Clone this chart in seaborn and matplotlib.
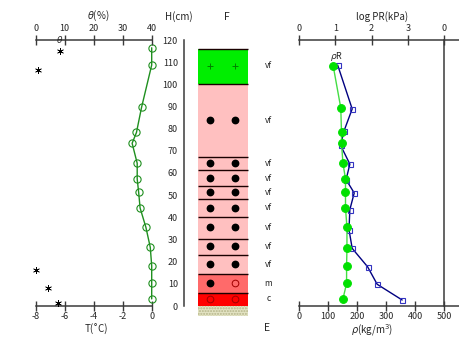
import numpy as np
import pandas as pd
import seaborn as sns
import matplotlib
matplotlib.use("Agg")
import matplotlib.pyplot as plt

# ---------------- data ----------------
T_height = [116.5, 108.7, 89.6, 78.3, 73.4, 64.4, 57.3, 51.3, 44.2, 35.5, 26.5, 18.2, 10.2, 3.2]
T_vals = [0.0, 0.0, -0.7, -1.05, -1.35, -1.0, -1.0, -0.9, -0.8, -0.4, -0.1, 0.0, 0.0, 0.0]

theta_height = [115.0, 106.5, 16.2, 8.1, 1.4]
theta_vals = [8.4, 0.8, 0.0, 4.2, 7.7]

rho_height = [108.7, 88.9, 79.0, 72.5, 64.0, 57.0, 51.0, 43.5, 34.5, 26.0, 17.7, 9.8, 2.7]
rho_vals = [133, 183, 155, 143, 175, 162, 190, 175, 172, 183, 236, 269, 355]

pr_height = [108.4, 89.4, 78.3, 73.4, 64.4, 57.3, 51.3, 44.2, 35.5, 26.0, 18.2, 10.2, 3.2]
pr_log = [0.94, 1.15, 1.17, 1.17, 1.21, 1.28, 1.28, 1.28, 1.32, 1.32, 1.31, 1.31, 1.21]

layer_top = [116, 100, 67.3, 61.3, 54.3, 48.3, 40.3, 30.1, 23, 14.3, 6]
layer_bottom = [100, 67.3, 61.3, 54.3, 48.3, 40.3, 30.1, 23, 14.3, 6, 0]
layer_color = ["#00ee00"] + ["#ffc0c0"] * 8 + ["#ff6a6a", "#ff0000"]
grain_height = [108.4, 83.7, 64.4, 57.7, 51.4, 44.3, 35.5, 27, 18.8, 10.2, 3.2]
grain_left = ["plus"] + ["dot"] * 8 + ["dot", "open"]
grain_right = ["plus"] + ["dot"] * 8 + ["open", "open"]
grain_size = ["vf"] * 9 + ["m", "c"]

T_ticks = [-8, -6, -4, -2, 0]
theta_ticks = [0, 10, 20, 30, 40]
H_ticks = list(range(0, 130, 10))
rho_ticks = [0, 100, 200, 300, 400, 500]
pr_ticks = [0, 1, 2, 3, 4]
pr_ticklabels = ["0", "1", "2", "3", "0"]

# ---------------- style ----------------
sns.set_style("white")
plt.rcParams["font.family"] = ["Noto Sans CJK JP", "DejaVu Sans"]
plt.rcParams["font.size"] = 6.5
plt.rcParams["axes.unicode_minus"] = False

W, H = 460, 345
fig = plt.figure(figsize=(4.6, 3.45), dpi=100)
fig.patch.set_facecolor("white")

def fx(px):
    return px / W

def fy(py):
    return 1 - py / H

Y0, Y120 = 306, 40
bottom = fy(Y0)
height = (Y0 - Y120) / H
AXC = "#3a3a3a"
green = "#1f8f1f"

def style_h(ax, which):
    for s in ["left", "right", "top", "bottom"]:
        ax.spines[s].set_visible(s in which)
        ax.spines[s].set_color(AXC)
        ax.spines[s].set_linewidth(1.1)
    ax.set_facecolor("none")

# ---------------- left panel: T and theta ----------------
ax1 = fig.add_axes([fx(35.7), bottom, fx(151.7) - fx(35.7), height])
ax1.set_xlim(-8, 0)
ax1.set_ylim(0, 120)
style_h(ax1, ["bottom"])
ax1.set_xticks(T_ticks)
ax1.set_xticklabels([str(t) for t in T_ticks])
ax1.set_yticks([])
ax1.tick_params(axis="x", direction="inout", length=7.2, width=1.0, color=AXC, pad=0.8, labelsize=6.5)
sns.lineplot(x=T_vals, y=T_height, sort=False, estimator=None, ax=ax1, color=green,
             lw=1.0, marker="o", markersize=5.2, markerfacecolor="none",
             markeredgecolor=green, markeredgewidth=0.8, clip_on=False)
ax1.set_xlabel("")
ax1.set_ylabel("")

ax1t = ax1.twiny()
ax1t.set_xlim(0, 40)
style_h(ax1t, ["top"])
ax1t.set_xticks(theta_ticks)
ax1t.tick_params(axis="x", direction="inout", length=7.2, width=1.0, color=AXC, pad=1.2, labelsize=6.5)
sns.scatterplot(x=theta_vals, y=theta_height, ax=ax1t, marker=(6, 2, 0), s=20,
                color="black", edgecolor="black", linewidth=0.5, clip_on=False)
ax1t.text(8.3, 120.2, r"$\theta$", ha="center", va="center", fontsize=6.5)

# ---------------- middle panel: stratigraphy ----------------
ax2 = fig.add_axes([fx(184), bottom, fx(290) - fx(184), height])
ax2.set_xlim(-0.274, 1.846)
ax2.set_ylim(0, 120)
style_h(ax2, ["left"])
ax2.set_yticks(H_ticks)
ax2.set_xticks([])
ax2.tick_params(axis="y", direction="inout", length=4.8, width=1.0, color=AXC, pad=2, labelsize=6.5)

thick = [t - b for t, b in zip(layer_top, layer_bottom)]
ax2.barh(y=layer_bottom, width=1.0, height=thick, left=0, align="edge",
         color=layer_color, linewidth=0)
ax2.hlines(layer_top, 0, 1, color="#1a0000", lw=1.0)
ax2.fill_between([0, 1], -4.5, 0, facecolor="#e4e4c4", edgecolor="#b5b58a",
                 hatch="......", linewidth=0, clip_on=False)

for xpos, kinds in [(0.25, grain_left), (0.75, grain_right)]:
    for h, k in zip(grain_height, kinds):
        if k == "dot":
            ax2.plot([xpos], [h], marker="o", ms=4.6, color="black", ls="none")
        elif k == "open":
            ax2.plot([xpos], [h], marker="o", ms=4.8, mfc="none", mec="#a00000", mew=0.7, ls="none")
        else:
            ax2.plot([xpos], [h], marker="+", ms=4.5, color="#008000", mew=0.7, ls="none")
for h, g in zip(grain_height, grain_size):
    ax2.text(1.41, h, g, ha="center", va="center", fontsize=6)

ax2.text(0.59, 130.5, "F", ha="center", va="center", fontsize=7.5, clip_on=False)
ax2.text(1.38, -10, "E", ha="center", va="center", fontsize=7.5, clip_on=False)

# ---------------- right panel: density and PR ----------------
ax3 = fig.add_axes([fx(299), bottom, fx(460) - fx(299), height])
ax3.set_xlim(0, 554)
ax3.set_ylim(0, 120)
style_h(ax3, ["bottom"])
ax3.set_xticks(rho_ticks)
ax3.set_yticks([])
ax3.tick_params(axis="x", direction="inout", length=7.2, width=1.0, color=AXC, pad=0.8, labelsize=6.5)
sns.lineplot(x=rho_vals, y=rho_height, sort=False, estimator=None, ax=ax3, color="#000080",
             lw=1.0, marker="s", markersize=3.6, markerfacecolor="none",
             markeredgecolor="#3434c0", markeredgewidth=0.8, clip_on=False)
ax3.set_xlabel("")
ax3.set_ylabel("")
ax3.text(130, 112.6, r"$\rho$R", ha="center", va="center", fontsize=6.5)

ax3t = ax3.twiny()
ax3t.set_xlim(0, 4.432)
style_h(ax3t, ["top"])
ax3t.set_xticks(pr_ticks)
ax3t.set_xticklabels(pr_ticklabels)
ax3t.tick_params(axis="x", direction="inout", length=7.2, width=1.0, color=AXC, pad=1.2, labelsize=6.5)
sns.lineplot(x=pr_log, y=pr_height, sort=False, estimator=None, ax=ax3t, color="#44dd44",
             lw=1.0, marker="o", markersize=5.6, markerfacecolor="#00e000",
             markeredgecolor="#00e000", clip_on=False)
ax3t.set_xlabel("")
ax3t.set_ylabel("")

# right-most vertical height axis (next panel, cut off)
ax4 = fig.add_axes([fx(444.3), bottom, 0.0005, height])
ax4.set_ylim(0, 120)
style_h(ax4, ["left"])
ax4.set_xticks([])
ax4.set_yticks(H_ticks[1:-1])
ax4.set_yticklabels([])
ax4.tick_params(axis="y", direction="out", length=2.6, width=1.0, color=AXC)

# ---------------- axis titles ----------------
fig.text(fx(98), fy(16), r"$\theta$(%)", ha="center", va="center", fontsize=7)
fig.text(fx(96), fy(329), "T(˚C)", ha="center", va="center", fontsize=7)
fig.text(fx(178.5), fy(16.7), "H(cm)", ha="center", va="center", fontsize=7)
fig.text(fx(382), fy(16.7), "log PR(kPa)", ha="center", va="center", fontsize=7)
fig.text(fx(372.5), fy(330), r"$\rho$(kg/m$^3$)", ha="center", va="center", fontsize=7)

fig.savefig("out.png", dpi=100, facecolor="white")
